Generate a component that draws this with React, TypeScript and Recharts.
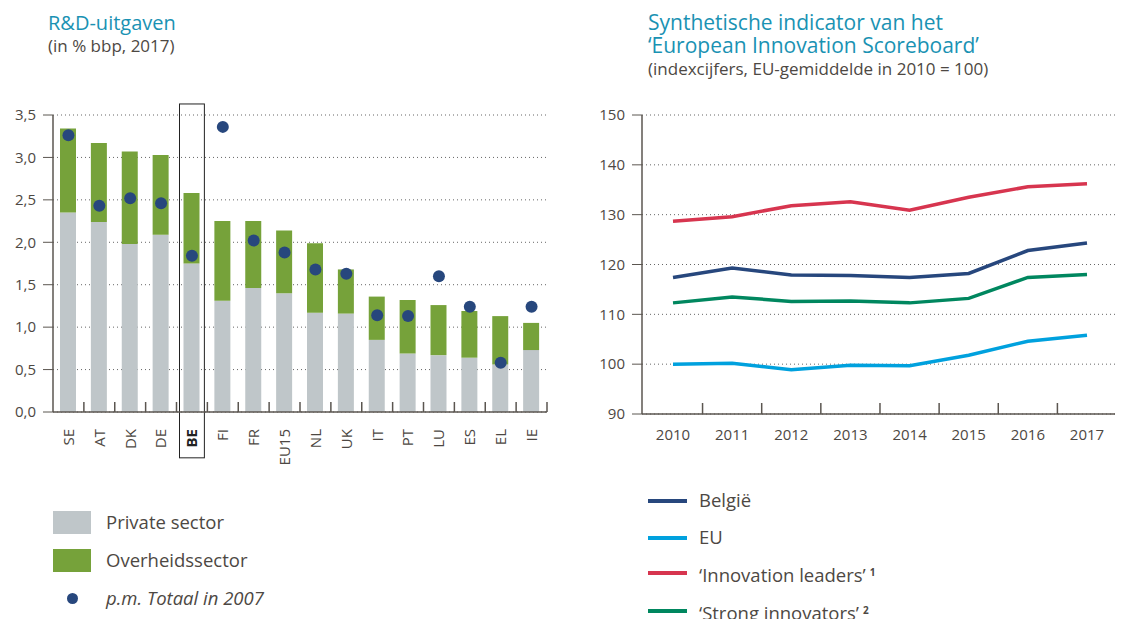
import {
  Bar,
  CartesianGrid,
  ComposedChart,
  Line,
  LineChart,
  ReferenceArea,
  XAxis,
  YAxis,
} from "recharts";

const countries = ["SE", "AT", "DK", "DE", "BE", "FI", "FR", "EU15", "NL", "UK", "IT", "PT", "LU", "ES", "EL", "IE"];
const privateSector = [2.35, 2.24, 1.98, 2.09, 1.75, 1.31, 1.46, 1.4, 1.17, 1.16, 0.85, 0.69, 0.67, 0.64, 0.56, 0.73];
const publicSector = [0.99, 0.93, 1.09, 0.94, 0.83, 0.94, 0.79, 0.74, 0.82, 0.52, 0.51, 0.63, 0.59, 0.55, 0.57, 0.32];
const total2007 = [3.26, 2.43, 2.52, 2.46, 1.84, 3.36, 2.02, 1.88, 1.68, 1.63, 1.14, 1.13, 1.6, 1.24, 0.58, 1.24];
const rdTicks = [0, 0.5, 1, 1.5, 2, 2.5, 3, 3.5];

const years = ["2010", "2011", "2012", "2013", "2014", "2015", "2016", "2017"];
const belgium = [117.4, 119.3, 117.9, 117.8, 117.4, 118.2, 122.8, 124.3];
const eu = [100.0, 100.2, 98.9, 99.8, 99.7, 101.8, 104.6, 105.8];
const leaders = [128.7, 129.6, 131.8, 132.6, 130.9, 133.5, 135.6, 136.2];
const strong = [112.3, 113.5, 112.6, 112.7, 112.3, 113.2, 117.4, 118.0];
const eisTicks = [90, 100, 110, 120, 130, 140, 150];

const FONT = "'Open Sans', 'Noto Sans', sans-serif";
const TEXT = "#4d4843";
const AXIS = "#5b5650";
const TITLE = "#1a92b3";
const GREY = "#bfc6c9";
const GREEN = "#76a23a";
const NAVY = "#27477d";
const LIGHTBLUE = "#00a1de";
const RED = "#d7354f";
const TEAL = "#00875f";

const rdData = countries.map((c, i) => ({
  country: c,
  priv: privateSector[i],
  pub: publicSector[i],
  t2007: total2007[i],
}));

const eisData = years.map((y, i) => ({
  year: y,
  belgium: belgium[i],
  eu: eu[i],
  leaders: leaders[i],
  strong: strong[i],
}));

const RD_BAND = 494 / 16;
const EIS_STEP = 59.1;
const RD_MARGIN = 17;
const EIS_MARGIN = 15;

function RdTick({ x, y, payload }: any) {
  const bold = payload.value === "BE";
  return (
    <g>
      <line
        x1={x + RD_BAND / 2}
        x2={x + RD_BAND / 2}
        y1={y - RD_MARGIN}
        y2={y - RD_MARGIN - 10}
        stroke={AXIS}
        strokeWidth={1.5}
      />
      <text
        x={x}
        y={y}
        transform={`rotate(-90 ${x} ${y})`}
        textAnchor="end"
        dy="0.36em"
        fontSize={15}
        fontWeight={bold ? 700 : 400}
        fill={bold ? "#222" : TEXT}
      >
        {payload.value}
      </text>
    </g>
  );
}

function YearTick({ x, y, payload, index }: any) {
  return (
    <g>
      {index < years.length - 1 && (
        <line
          x1={x + EIS_STEP / 2}
          x2={x + EIS_STEP / 2}
          y1={y - EIS_MARGIN}
          y2={y - EIS_MARGIN - 11}
          stroke={AXIS}
          strokeWidth={1.5}
        />
      )}
      <text x={x} y={y} textAnchor="middle" dy="0.71em" fontSize={15} fill={TEXT}>
        {payload.value}
      </text>
    </g>
  );
}

const legendText = { position: "absolute" as const, fontSize: 18.5, lineHeight: "22px", whiteSpace: "nowrap" as const };

export default function App() {
  return (
    <div
      style={{
        position: "absolute",
        left: 0,
        top: 0,
        width: 1134,
        height: 619,
        overflow: "hidden",
        background: "#fff",
        fontFamily: FONT,
        color: TEXT,
      }}
    >
      {/* left title */}
      <div style={{ position: "absolute", left: 48, top: 12, fontSize: 20, lineHeight: "22px", color: TITLE }}>R&amp;D-uitgaven</div>
      <div style={{ position: "absolute", left: 48, top: 35, fontSize: 17, lineHeight: "22px" }}>(in % bbp, 2017)</div>

      {/* right title */}
      <div style={{ position: "absolute", left: 648, top: 11, fontSize: 21, lineHeight: "22.6px", color: TITLE }}>
        Synthetische indicator van het
        <br />
        ‘European Innovation Scoreboard’
      </div>
      <div style={{ position: "absolute", left: 648, top: 58, fontSize: 17, lineHeight: "22px" }}>
        (indexcijfers, EU-gemiddelde in 2010 = 100)
      </div>

      <div style={{ position: "absolute", left: 0, top: 95 }}>
        <ComposedChart width={560} height={380} data={rdData} margin={{ top: 20, right: 13, left: 8, bottom: 8 }} barSize={16}>
          <CartesianGrid vertical={false} strokeDasharray="1 3" stroke="#666" />
          <XAxis
            dataKey="country"
            interval={0}
            height={55}
            tickSize={0}
            tickMargin={RD_MARGIN}
            tick={<RdTick />}
            axisLine={{ stroke: AXIS, strokeWidth: 1.5 }}
          />
          <YAxis
            width={45}
            domain={[0, 3.5]}
            ticks={rdTicks}
            tickSize={10}
            tickMargin={7}
            tick={{ fill: TEXT, fontSize: 15 }}
            tickLine={{ stroke: AXIS }}
            axisLine={{ stroke: AXIS, strokeWidth: 1.5 }}
            tickFormatter={(v: number) => v.toFixed(1).replace(".", ",")}
          />
          <Bar dataKey="priv" stackId="rd" fill={GREY} isAnimationActive={false} />
          <Bar dataKey="pub" stackId="rd" fill={GREEN} isAnimationActive={false} />
          <Line
            dataKey="t2007"
            stroke="none"
            dot={{ r: 6, fill: NAVY, stroke: "none" }}
            activeDot={false}
            isAnimationActive={false}
          />
          <ReferenceArea
            x1="BE"
            x2="BE"
            y1={-0.54}
            y2={3.63}
            ifOverflow="visible"
            shape={(p: any) => (
              <rect x={p.x + 3} y={p.y} width={p.width - 6} height={p.height} fill="none" stroke="#222" strokeWidth={1} />
            )}
          />
        </ComposedChart>
      </div>

      <div style={{ position: "absolute", left: 590, top: 95 }}>
        <LineChart width={544} height={380} data={eisData} margin={{ top: 20, right: 19, left: 8, bottom: 8 }}>
          <CartesianGrid vertical={false} strokeDasharray="1 3" stroke="#666" />
          <XAxis
            dataKey="year"
            interval={0}
            height={53}
            padding={{ left: 31, right: 28 }}
            tickSize={0}
            tickMargin={EIS_MARGIN}
            tick={<YearTick />}
            axisLine={{ stroke: AXIS, strokeWidth: 1.5 }}
          />
          <YAxis
            width={44}
            domain={[90, 150]}
            ticks={eisTicks}
            tickSize={10}
            tickMargin={7}
            tick={{ fill: TEXT, fontSize: 15 }}
            tickLine={{ stroke: AXIS }}
            axisLine={{ stroke: AXIS, strokeWidth: 1.5 }}
          />
          <Line dataKey="leaders" stroke={RED} strokeWidth={3.5} dot={false} activeDot={false} isAnimationActive={false} />
          <Line dataKey="belgium" stroke={NAVY} strokeWidth={3.5} dot={false} activeDot={false} isAnimationActive={false} />
          <Line dataKey="strong" stroke={TEAL} strokeWidth={3.5} dot={false} activeDot={false} isAnimationActive={false} />
          <Line dataKey="eu" stroke={LIGHTBLUE} strokeWidth={3.5} dot={false} activeDot={false} isAnimationActive={false} />
        </LineChart>
      </div>

      {/* left legend */}
      <div style={{ position: "absolute", left: 53, top: 511, width: 38, height: 23, background: GREY }} />
      <div style={{ ...legendText, left: 106, top: 511 }}>Private sector</div>
      <div style={{ position: "absolute", left: 53, top: 549, width: 38, height: 23, background: GREEN }} />
      <div style={{ ...legendText, left: 106, top: 549 }}>Overheidssector</div>
      <div style={{ position: "absolute", left: 66.5, top: 592.5, width: 11, height: 11, borderRadius: "50%", background: NAVY }} />
      <div style={{ ...legendText, left: 106, top: 587, fontStyle: "italic" }}>p.m. Totaal in 2007</div>

      {/* right legend */}
      {[
        { c: NAVY, t: "België", sup: "", y: 501 },
        { c: LIGHTBLUE, t: "EU", sup: "", y: 538 },
        { c: RED, t: "‘Innovation leaders’", sup: "1", y: 573 },
        { c: TEAL, t: "‘Strong innovators’", sup: "2", y: 611 },
      ].map((d) => (
        <div key={d.t}>
          <div style={{ position: "absolute", left: 648, top: d.y - 2, width: 39, height: 4, background: d.c }} />
          <div style={{ ...legendText, left: 699, top: d.y - 12 }}>
            {d.t}
            {d.sup && (
              <span style={{ fontSize: 10, fontWeight: 700, verticalAlign: "6px", marginLeft: 4 }}>{d.sup}</span>
            )}
          </div>
        </div>
      ))}
    </div>
  );
}
